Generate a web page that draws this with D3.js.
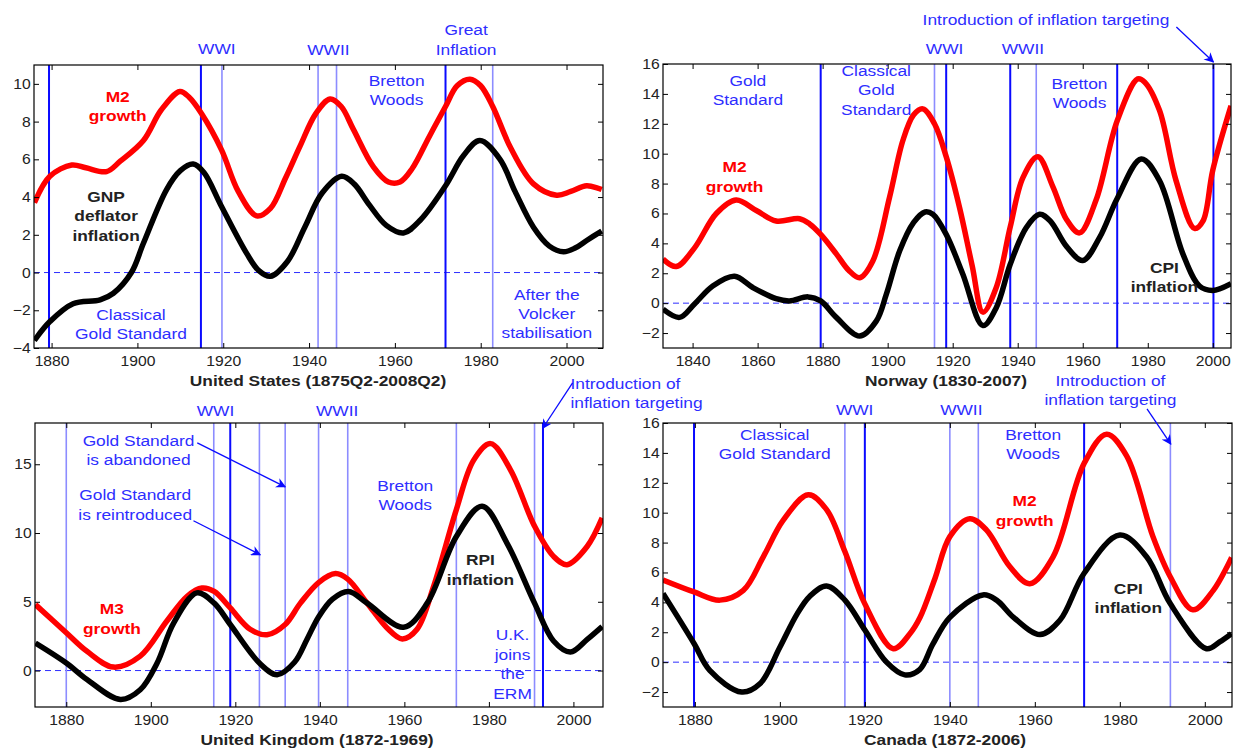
<!DOCTYPE html>
<html>
<head>
<meta charset="utf-8">
<script src="https://cdn.jsdelivr.net/npm/d3@7"></script>
<style>
  body { margin: 0; background: #fff; }
  svg { display: block; }
  text { font-family: "Liberation Sans", Arial, sans-serif; }
</style>
</head>
<body>
<div id="chart"></div>
<script>
// Money growth vs inflation, four countries (low-frequency components)

// ---- data: [year, percent] ----
const usM2 = [[1876,3.7],[1879.6,5.1],[1884.7,5.7],[1888,5.55],[1892.8,5.35],[1896,5.9],[1901.4,7.0],[1905.5,8.6],[1909.9,9.6],[1912,9.3],[1915,8.4],[1919.6,6.5],[1923.5,4.3],[1927.8,3.0],[1931,3.4],[1934.5,5.0],[1937.9,6.7],[1941.5,8.4],[1944.9,9.2],[1947.5,8.8],[1950.3,7.6],[1955,5.6],[1958.5,4.8],[1961.2,4.8],[1964,5.5],[1968,7.2],[1971.8,8.8],[1974.5,9.9],[1977.5,10.25],[1980,9.9],[1982.8,8.8],[1987,6.6],[1992.3,4.7],[1997.7,4.1],[2001,4.3],[2004.7,4.6],[2008.2,4.4]];
const usDeflator = [[1876,-3.6],[1879.6,-2.6],[1885,-1.65],[1891.3,-1.45],[1894.4,-1.1],[1898.6,0],[1901.4,1.55],[1906.8,4.4],[1910,5.4],[1913,5.75],[1915.5,5.3],[1919.6,3.5],[1925.5,1.0],[1928.3,0.1],[1931,-0.2],[1935,0.6],[1939,2.4],[1943,4.2],[1947.6,5.1],[1950.5,4.7],[1954,3.6],[1958,2.5],[1962,2.1],[1966,2.8],[1971.8,4.6],[1976,6.2],[1979.8,7.0],[1984.5,6.0],[1988,4.3],[1992.3,2.4],[1996,1.4],[1999.3,1.1],[2002,1.3],[2004.7,1.7],[2008.2,2.2]];

const noM2 = [[1830.9,2.95],[1835,2.45],[1840.6,3.7],[1847.3,6.0],[1853.4,6.9],[1859.6,6.2],[1865.7,5.5],[1872.9,5.65],[1876,5.3],[1879.4,4.6],[1884.2,3.3],[1888,2.2],[1891.4,1.7],[1895.4,2.8],[1900.6,7.1],[1904.7,10.9],[1908,12.6],[1910.8,13.0],[1914.4,12.0],[1918,9.8],[1922.1,6.4],[1926,2.5],[1929.3,-0.6],[1933.4,1.05],[1937.7,5.1],[1941.6,8.4],[1946.2,9.8],[1950.8,7.8],[1955,5.6],[1959,4.7],[1964.1,6.9],[1970.6,12.2],[1976.9,15.0],[1979,14.8],[1983.6,12.9],[1988.7,8.2],[1994.4,5.0],[1997,5.5],[2000,8.9],[2005.6,13.2]];
const noCPI = [[1830.9,-0.4],[1836,-0.95],[1840.6,-0.05],[1846.2,1.15],[1852.9,1.8],[1858.5,1.05],[1865.7,0.3],[1869.8,0.15],[1875.5,0.42],[1879.4,0.15],[1884.2,-0.95],[1891.4,-2.2],[1896.5,-1.2],[1899.6,0.6],[1903.7,3.5],[1908,5.4],[1911.5,6.1],[1913.9,5.95],[1918,4.6],[1923.1,1.95],[1929.3,-1.5],[1933.4,-0.3],[1937.7,2.6],[1942.6,5.05],[1946.7,5.95],[1950,5.5],[1955,3.8],[1960,2.85],[1965.2,4.4],[1970.6,7.0],[1978,9.65],[1983.6,8.2],[1990.8,3.3],[1995.9,1.15],[2000,0.85],[2005.6,1.3]];

const ukM3 = [[1872.7,4.8],[1880,2.75],[1884.9,1.4],[1891.2,0.25],[1897.5,1.05],[1903.8,3.6],[1908.6,5.4],[1912.1,6.0],[1915,5.75],[1918.8,4.55],[1923.5,3.0],[1927.5,2.6],[1931.8,3.35],[1935.4,4.9],[1939.7,6.4],[1943.7,7.05],[1946.6,6.65],[1951.2,4.9],[1955.9,3.1],[1959.5,2.3],[1963,3.0],[1966.9,6.1],[1972.3,11.7],[1976.4,15.3],[1980.4,16.5],[1985.1,14.6],[1990.8,10.5],[1995.3,8.3],[1998.5,7.7],[2003.2,9.0],[2006.8,11.1]];
const ukRPI = [[1872.7,2.0],[1880,0.55],[1884.9,-0.65],[1892.8,-2.1],[1897.5,-1.4],[1901.5,0.55],[1905.4,3.45],[1910.9,5.65],[1915,4.9],[1918.8,3.35],[1925.7,0.55],[1929.9,-0.3],[1934,0.6],[1937,2.3],[1939.7,3.9],[1943,5.2],[1946.8,5.75],[1951.2,4.9],[1959.8,3.15],[1965.4,4.9],[1972.3,9.75],[1978.4,11.95],[1984.3,9.25],[1990.8,4.9],[1995.3,2.15],[1999.3,1.35],[2003.2,2.25],[2006.8,3.2]];

const caM2 = [[1872.5,5.5],[1879.8,4.7],[1885.9,4.15],[1891.4,4.8],[1896.1,7.05],[1900.8,9.5],[1906.7,11.2],[1911,10.2],[1915.3,7.4],[1920,3.9],[1926.7,0.9],[1930.6,1.9],[1933,3.0],[1936.5,5.6],[1940,8.4],[1944.7,9.6],[1948.6,8.85],[1954.1,6.4],[1958.8,5.25],[1964.3,7.05],[1971.6,13.3],[1976.9,15.25],[1981.6,13.8],[1987.8,8.4],[1991.9,5.7],[1997.2,3.5],[2002,4.8],[2006.3,7.0]];
const caCPI = [[1872.5,4.6],[1879.8,1.25],[1883.5,-0.55],[1891,-2.0],[1895.3,-1.45],[1900,1.0],[1904,3.2],[1907,4.4],[1911,5.1],[1915.3,4.15],[1920,2.15],[1925.1,0],[1929.4,-0.85],[1932.9,-0.5],[1936,1.2],[1940,3.0],[1947.8,4.5],[1951,4.15],[1955,3.0],[1961.2,1.85],[1965.9,2.8],[1971.6,5.95],[1980,8.5],[1986.3,7.05],[1991.9,3.9],[2000.4,0.9],[2003.5,1.35],[2006.3,1.9]];

// regime boundaries (years)
const usDark = [1879.4, 1914.8, 1971.8];
const usLight = [1919.7, 1942.1, 1946.4, 1982.8];
const noDark = [1879.4, 1918, 1937.7, 1970.6, 2000.2];
const noLight = [1914.4, 1945.7];
const ukDark = [1918.8, 1992.8];
const ukLight = [1880, 1914.9, 1925.7, 1931.8, 1939.7, 1946.6, 1972.3, 1990.8];
const caDark = [1879.8, 1920, 1971.6];
const caLight = [1915.3, 1940, 1946.7, 1991.9];

// tick values
const usYTicks = [-4, -2, 0, 2, 4, 6, 8, 10];
const usXTicks = [1880, 1900, 1920, 1940, 1960, 1980, 2000];
const noYTicks = [-2, 0, 2, 4, 6, 8, 10, 12, 14, 16];
const noXTicks = [1840, 1860, 1880, 1900, 1920, 1940, 1960, 1980, 2000];
const ukYTicks = [0, 5, 10, 15];
const ukXTicks = [1880, 1900, 1920, 1940, 1960, 1980, 2000];
const caYTicks = [-2, 0, 2, 4, 6, 8, 10, 12, 14, 16];
const caXTicks = [1880, 1900, 1920, 1940, 1960, 1980, 2000];

// annotations: [lines, year, value of first line, kind]
const usNotes = [
  [["M2", "growth"], 1895.4, 9.26, "red"],
  [["GNP", "deflator", "inflation"], 1892.7, 3.96, "black"],
  [["Classical", "Gold Standard"], 1898.5, -2.29, "blue"],
  [["WWI"], 1918.5, 11.8, "blue"],
  [["WWII"], 1944.5, 11.75, "blue"],
  [["Great", "Inflation"], 1976.6, 12.77, "blue"],
  [["Bretton", "Woods"], 1960.4, 10.1, "blue"],
  [["After the", "Volcker", "stabilisation"], 1995.4, -1.23, "blue"]
];
const noNotes = [
  [["Gold", "Standard"], 1857, 14.78, "blue"],
  [["Classical", "Gold", "Standard"], 1896.5, 15.45, "blue"],
  [["M2", "growth"], 1852.9, 9.01, "red"],
  [["WWI"], 1917.5, 16.93, "blue"],
  [["WWII"], 1941.6, 16.93, "blue"],
  [["Bretton", "Woods"], 1959, 14.58, "blue"],
  [["CPI", "inflation"], 1985.1, 2.3, "black"],
  [["Introduction of inflation targeting"], 1948.7, 18.88, "blue"]
];
const ukNotes = [
  [["WWI"], 1915.3, 18.81, "blue"],
  [["WWII"], 1944.1, 18.81, "blue"],
  [["Gold Standard", "is abandoned"], 1897.1, 16.63, "blue"],
  [["Gold Standard", "is reintroduced"], 1896.3, 12.64, "blue"],
  [["M3", "growth"], 1890.8, 4.36, "red"],
  [["Bretton", "Woods"], 1960.2, 13.36, "blue"],
  [["RPI", "inflation"], 1978, 7.92, "black"],
  [["U.K.", "joins", "the", "ERM"], 1985.6, 2.47, "blue"],
  [["Introduction of", "inflation targeting"], 1999.3, 20.77, "blue-left"]
];
const caNotes = [
  [["Classical", "Gold Standard"], 1898.8, 15.12, "blue"],
  [["WWI"], 1917.6, 16.8, "blue"],
  [["WWII"], 1942.7, 16.8, "blue"],
  [["Bretton", "Woods"], 1959.6, 15.12, "blue"],
  [["M2", "growth"], 1957.6, 10.68, "red"],
  [["CPI", "inflation"], 1982, 4.83, "black"],
  [["Introduction of", "inflation targeting"], 1977.8, 18.75, "blue"]
];

// arrows: [fromYear, fromValue, toYear, toValue]
const noArrows = [[1988.8, 18.48, 2000.2, 16.13]];
const ukArrows = [[1999.8, 20.92, 1992.7, 17.6], [1911, 16.56, 1931.8, 13.36], [1910.1, 10.89, 1925.9, 8.42]];
const caArrows = [[1986.4, 16.94, 1992, 14.58]];

const W = 1233, H = 751;
const DARK = "#0a0aff", LIGHT = "#8c8cff", TXTBLUE = "#2e2eff";
const SX = 1.12; // glyphs in the picture are slightly wide

const svg = d3.select("#chart").append("svg")
  .attr("width", W).attr("height", H);

const defs = svg.append("defs");
defs.append("marker")
  .attr("id", "arrow")
  .attr("viewBox", "0 0 10 10")
  .attr("refX", 9).attr("refY", 5)
  .attr("markerWidth", 10).attr("markerHeight", 10)
  .attr("markerUnits", "userSpaceOnUse")
  .attr("orient", "auto")
  .append("path")
  .attr("d", "M0,0 L10,5 L0,10 L3,5 z")
  .attr("fill", DARK);

const panels = [
  { id: "us", left: 34, right: 603, top: 65, bottom: 348, xDomain: [1875.9, 2008.5], yDomain: [-4, 11],
    red: usM2, black: usDeflator, dark: usDark, light: usLight, xTicks: usXTicks, yTicks: usYTicks,
    notes: usNotes, arrows: [], title: "United States (1875Q2-2008Q2)", titleX: 318 },
  { id: "no", left: 663, right: 1231, top: 64, bottom: 348, xDomain: [1830.9, 2005.6], yDomain: [-3, 16],
    red: noM2, black: noCPI, dark: noDark, light: noLight, xTicks: noXTicks, yTicks: noYTicks,
    notes: noNotes, arrows: noArrows, title: "Norway (1830-2007)", titleX: 946 },
  { id: "uk", left: 35, right: 603, top: 423, bottom: 707, xDomain: [1872.6, 2007], yDomain: [-2.65, 18],
    red: ukM3, black: ukRPI, dark: ukDark, light: ukLight, xTicks: ukXTicks, yTicks: ukYTicks,
    notes: ukNotes, arrows: ukArrows, title: "United Kingdom (1872-1969)", titleX: 317 },
  { id: "ca", left: 663, right: 1232, top: 423, bottom: 707, xDomain: [1872.5, 2006.4], yDomain: [-3, 16],
    red: caM2, black: caCPI, dark: caDark, light: caLight, xTicks: caXTicks, yTicks: caYTicks,
    notes: caNotes, arrows: caArrows, title: "Canada (1872-2006)", titleX: 945 }
];

panels.forEach(drawPanel);

function drawPanel(p) {
  const g = svg.append("g").attr("class", "panel-" + p.id);
  const x = d3.scaleLinear().domain(p.xDomain).range([p.left, p.right]);
  const y = d3.scaleLinear().domain(p.yDomain).range([p.bottom, p.top]);

  defs.append("clipPath").attr("id", "clip-" + p.id)
    .append("rect")
    .attr("x", p.left).attr("y", p.top)
    .attr("width", p.right - p.left).attr("height", p.bottom - p.top);

  // zero line
  g.append("line")
    .attr("x1", p.left).attr("x2", p.right)
    .attr("y1", y(0)).attr("y2", y(0))
    .attr("stroke", TXTBLUE).attr("stroke-width", 1)
    .attr("stroke-dasharray", "6,4");

  // regime lines
  g.selectAll(".light").data(p.light).enter().append("line")
    .attr("x1", d => x(d)).attr("x2", d => x(d))
    .attr("y1", p.top).attr("y2", p.bottom)
    .attr("stroke", LIGHT).attr("stroke-width", 1.6);
  g.selectAll(".dark").data(p.dark).enter().append("line")
    .attr("x1", d => x(d)).attr("x2", d => x(d))
    .attr("y1", p.top).attr("y2", p.bottom)
    .attr("stroke", DARK).attr("stroke-width", 2);

  // curves
  const line = d3.line()
    .x(d => x(d[0])).y(d => y(d[1]))
    .curve(d3.curveCatmullRom.alpha(0.5));
  const curves = g.append("g").attr("clip-path", "url(#clip-" + p.id + ")");
  curves.append("path").datum(p.red)
    .attr("d", line).attr("fill", "none")
    .attr("stroke", "#ff0000").attr("stroke-width", 5.5).attr("stroke-linejoin", "round");
  curves.append("path").datum(p.black)
    .attr("d", line).attr("fill", "none")
    .attr("stroke", "#000").attr("stroke-width", 5.5).attr("stroke-linejoin", "round");

  // axes with inward ticks on all sides
  const styleAxis = sel => {
    sel.select(".domain").remove();
    sel.selectAll("line").attr("stroke", "#000");
    sel.selectAll("text")
      .attr("fill", "#222")
      .style("font-size", "14px")
      .style("font-family", '"Liberation Sans", Arial, sans-serif')
      .attr("transform", `scale(${SX},1)`);
  };
  g.append("g").attr("transform", `translate(0,${p.bottom})`)
    .call(d3.axisBottom(x).tickValues(p.xTicks).tickFormat(d3.format("d"))
      .tickSizeInner(-5).tickSizeOuter(0).tickPadding(8))
    .call(styleAxis);
  g.append("g").attr("transform", `translate(0,${p.top})`)
    .call(d3.axisTop(x).tickValues(p.xTicks).tickFormat("")
      .tickSizeInner(-5).tickSizeOuter(0))
    .call(styleAxis);
  g.append("g").attr("transform", `translate(${p.left},0)`)
    .call(d3.axisLeft(y).tickValues(p.yTicks).tickFormat(d3.format("d"))
      .tickSizeInner(-5).tickSizeOuter(0).tickPadding(3))
    .call(styleAxis);
  g.append("g").attr("transform", `translate(${p.right},0)`)
    .call(d3.axisRight(y).tickValues(p.yTicks).tickFormat("")
      .tickSizeInner(-5).tickSizeOuter(0))
    .call(styleAxis);

  // frame
  g.append("rect")
    .attr("x", p.left).attr("y", p.top)
    .attr("width", p.right - p.left).attr("height", p.bottom - p.top)
    .attr("fill", "none").attr("stroke", "#000").attr("stroke-width", 1.2);

  // annotations
  p.notes.forEach(n => {
    const [lines, yr, val, kind] = n;
    const colour = kind === "red" ? "#ff0000" : kind === "black" ? "#222" : TXTBLUE;
    const bold = kind === "red" || kind === "black";
    const anchor = kind === "blue-left" ? "start" : "middle";
    const t = g.append("text")
      .attr("transform", `translate(${x(yr)},${y(val)}) scale(${SX},1)`)
      .attr("text-anchor", anchor)
      .attr("dominant-baseline", "middle")
      .attr("fill", colour)
      .style("font-size", "15.5px")
      .style("font-weight", bold ? "bold" : "normal");
    lines.forEach((s, i) => {
      t.append("tspan").attr("x", 0).attr("y", i * 19.5).text(s);
    });
  });

  // arrows
  p.arrows.forEach(a => {
    g.append("line")
      .attr("x1", x(a[0])).attr("y1", y(a[1]))
      .attr("x2", x(a[2])).attr("y2", y(a[3]))
      .attr("stroke", DARK).attr("stroke-width", 1.3)
      .attr("marker-end", "url(#arrow)");
  });

  // title
  g.append("text")
    .attr("transform", `translate(${p.titleX},${p.bottom + 34}) scale(${SX},1)`)
    .attr("text-anchor", "middle")
    .attr("dominant-baseline", "middle")
    .attr("fill", "#222")
    .style("font-size", "15.5px")
    .style("font-weight", "bold")
    .text(p.title);
}
</script>
</body>
</html>
